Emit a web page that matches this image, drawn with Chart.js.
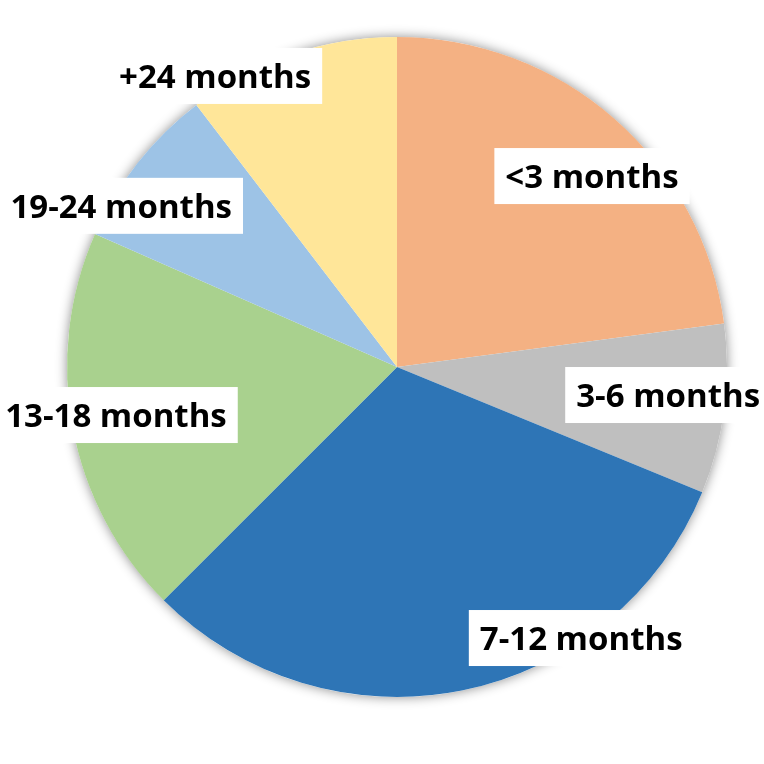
<!DOCTYPE html>
<html>
<head>
<meta charset="utf-8">
<script src="https://cdn.jsdelivr.net/npm/chart.js@4/dist/chart.umd.min.js"></script>
<style>
html,body{margin:0;padding:0;background:#fff;}
#wrap{width:764px;height:764px;position:relative;}
</style>
</head>
<body>
<div id="wrap"><canvas id="c" width="764" height="764"></canvas></div>
<script>
const categories = ['<3 months', '3-6 months', '7-12 months', '13-18 months', '19-24 months', '+24 months'];
const shares = [22.9, 8.3, 31.3, 19.1, 8.0, 10.4];
const sliceColors = ['#F4B183', '#BFBFBF', '#2E75B6', '#A9D18E', '#9DC3E6', '#FFE699'];
// label placement: angle (deg clockwise from 12 o'clock) and distance as fraction of radius
const labelAngle = [45.6, 95.9, 145.8, 260.3, 300.3, 328.0];
const labelDist = [0.827, 0.826, 0.993, 0.864, 0.968, 1.04];

const shadowPlugin = {
  id: 'pieShadow',
  beforeDatasetsDraw(chart) {
    const arc = chart.getDatasetMeta(0).data[0];
    if (!arc) return;
    const ctx = chart.ctx;
    ctx.save();
    ctx.shadowColor = 'rgba(0,0,0,0.45)';
    ctx.shadowBlur = 12;
    ctx.shadowOffsetX = 0;
    ctx.shadowOffsetY = 0;
    ctx.fillStyle = '#ffffff';
    ctx.beginPath();
    ctx.arc(arc.x, arc.y, arc.outerRadius, 0, Math.PI * 2);
    ctx.fill();
    ctx.restore();
  }
};

const labelPlugin = {
  id: 'boxLabels',
  afterDatasetsDraw(chart) {
    const arcs = chart.getDatasetMeta(0).data;
    const ctx = chart.ctx;
    ctx.save();
    ctx.font = 'bold 33px "Open Sans"';
    ctx.textAlign = 'center';
    ctx.textBaseline = 'middle';
    arcs.forEach((a, i) => {
      const th = labelAngle[i] * Math.PI / 180;
      const r = a.outerRadius * labelDist[i];
      const x = a.x + r * Math.sin(th);
      const y = a.y - r * Math.cos(th);
      const txt = categories[i];
      const w = ctx.measureText(txt).width + 22;
      const h = 56;
      ctx.fillStyle = '#ffffff';
      ctx.fillRect(x - w / 2, y - h / 2, w, h);
      ctx.fillStyle = '#000000';
      ctx.fillText(txt, x, y + 3);
    });
    ctx.restore();
  }
};

function draw() {
  new Chart(document.getElementById('c'), {
    type: 'pie',
    data: {
      labels: categories,
      datasets: [{
        data: shares,
        backgroundColor: sliceColors,
        borderWidth: 0
      }]
    },
    options: {
      responsive: false,
      animation: false,
      layout: { padding: { left: 67, right: 37, top: 37, bottom: 67 } },
      plugins: {
        legend: { display: false },
        tooltip: { enabled: false }
      }
    },
    plugins: [shadowPlugin, labelPlugin]
  });
}

if (document.fonts && document.fonts.load) {
  document.fonts.load('bold 33px "Open Sans"').then(draw, draw);
} else {
  draw();
}
</script>
</body>
</html>
